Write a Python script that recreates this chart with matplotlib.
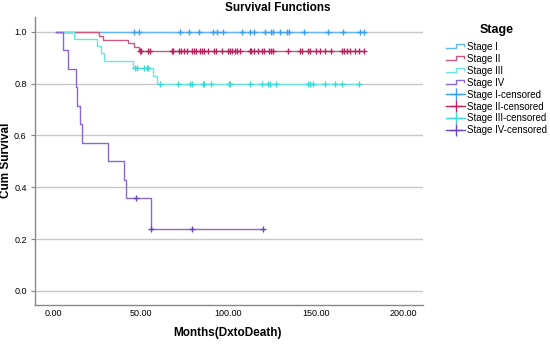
import numpy as np
import matplotlib
matplotlib.use('Agg')
import matplotlib.pyplot as plt
from matplotlib.lines import Line2D
from matplotlib.legend_handler import HandlerBase

plt.rcParams['font.family'] = ['Liberation Sans', 'DejaVu Sans']

# Kaplan-Meier curves: event times (months) and survival after each step
stage1_times = []
stage1_surv = []
stage1_cens = [46.1, 49.1, 72.4, 77.5, 83.2, 91.1, 93.2, 97.0, 107.7, 112.4, 114.7,
               121.0, 124.1, 125.3, 129.5, 133.3, 134.4, 143.3, 156.8, 165.5, 175.2, 177.5]

stage2_times = [26.3, 28.2, 42.5, 46.0, 49.0]
stage2_surv = [0.985, 0.970, 0.955, 0.940, 0.925]
stage2_cens = [49.3, 50.1, 53.8, 55.3, 67.8, 68.4, 71.8, 72.9, 74.4, 76.1, 79.3, 80.4,
               81.5, 83.5, 84.9, 86.1, 88.4, 91.8, 92.6, 96.1, 99.8, 101.0, 102.1, 103.5,
               105.0, 106.7, 112.1, 112.9, 114.7, 116.7, 119.3, 120.4, 123.0, 124.1, 125.5,
               133.8, 140.7, 141.9, 145.5, 146.7, 150.1, 152.4, 155.3, 158.4, 164.8, 165.7,
               167.5, 169.5, 172.4, 174.4, 177.5]

stage3_times = [11.8, 25.1, 27.3, 29.0, 45.5, 57.1, 58.9]
stage3_surv = [0.972, 0.944, 0.917, 0.889, 0.861, 0.829, 0.797]
stage3_cens = [46.7, 47.8, 52.0, 53.4, 54.3, 61.0, 71.4, 78.1, 79.0, 85.4, 86.1, 89.8,
               100.1, 101.1, 112.0, 119.1, 122.3, 123.7, 127.3, 145.1, 146.3, 148.4,
               154.8, 160.9, 164.8, 174.3]

stage4_times = [5.3, 8.2, 12.8, 13.7, 15.3, 16.2, 30.9, 40.6, 41.3, 55.8]
stage4_surv = [0.929, 0.857, 0.786, 0.714, 0.643, 0.571, 0.500, 0.429, 0.357, 0.238]
stage4_cens = [47.3, 55.8, 79.2, 119.4]

labels = ['Stage I', 'Stage II', 'Stage III', 'Stage IV']
line_colors = ['#62b6f2', '#c95a84', '#6fe3de', '#8a6ad0']
mark_colors = ['#3c9fee', '#b5245e', '#3fd8d2', '#6a46b8']

groups = [
    (stage1_times, stage1_surv, stage1_cens),
    (stage2_times, stage2_surv, stage2_cens),
    (stage3_times, stage3_surv, stage3_cens),
    (stage4_times, stage4_surv, stage4_cens),
]


def surv_at(times, surv, t):
    s = 1.0
    for ti, si in zip(times, surv):
        if ti <= t:
            s = si
    return s


class StepHandler(HandlerBase):
    def create_artists(self, legend, orig_handle, xdescent, ydescent,
                       width, height, fontsize, trans):
        x = np.array([0, 0.5, 0.5, 0.95, 0.95]) * width - xdescent
        y = np.array([0.25, 0.25, 0.85, 0.85, 0.6]) * height - ydescent
        ln = Line2D(x, y, color=orig_handle.get_color(), lw=1.0)
        ln.set_transform(trans)
        return [ln]


fig = plt.figure(figsize=(5.5, 3.44), dpi=100)
ax = fig.add_axes([0.0636, 0.1134, 0.7055, 0.8372])

for (times, surv, cens), lc, mc in zip(groups, line_colors, mark_colors):
    end = max([0] + times + cens)
    xs = [1.5] + times + [end]
    ys = [1.0] + surv + [surv[-1] if surv else 1.0]
    ax.step(xs, ys, where='post', color=lc, lw=1.0, zorder=3)
    cy = [surv_at(times, surv, c) for c in cens]
    ax.plot(cens, cy, linestyle='none', marker='+', markersize=5,
            markeredgewidth=1.0, color=mc, zorder=4)

ax.set_xlim(-10.5, 211)
ax.set_ylim(-0.054, 1.057)
ax.set_yticks([0.0, 0.2, 0.4, 0.6, 0.8, 1.0])
ax.set_yticklabels(['0.0', '0.2', '0.4', '0.6', '0.8', '1.0'])
ax.set_xticks([0, 50, 100, 150, 200])
ax.set_xticklabels(['0.00', '50.00', '100.00', '150.00', '200.00'])
ax.tick_params(axis='x', length=0, labelsize=6.5, pad=3)
ax.tick_params(axis='y', length=3, width=0.8, color='#888888', labelsize=6.5, pad=3)
ax.yaxis.grid(True, color='#c8c8c8', lw=1.0)
ax.set_axisbelow(True)
for side in ['top', 'right']:
    ax.spines[side].set_visible(False)
for side in ['left', 'bottom']:
    ax.spines[side].set_color('#888888')
    ax.spines[side].set_linewidth(1.0)

fig.text(0.505, 0.978, 'Survival Functions', ha='center', va='center',
         fontsize=8.5, fontweight='bold')
fig.text(6 / 550, 1 - 160 / 344, 'Cum Survival', rotation=90, ha='center', va='center',
         fontsize=8.5, fontweight='bold')
fig.text(228 / 550, 1 - 333 / 344, 'Months(DxtoDeath)', ha='center', va='center',
         fontsize=8.5, fontweight='bold')

handles = []
handler_map = {}
for lab, lc in zip(labels, line_colors):
    h = Line2D([], [], color=lc)
    handles.append(h)
    handler_map[h] = StepHandler()
for lab, mc in zip(labels, mark_colors):
    handles.append(Line2D([], [], color=mc, marker='+', markersize=9,
                          markeredgewidth=1.0, lw=1.0))
leg_labels = labels + [l + '-censored' for l in labels]

leg = fig.legend(handles, leg_labels, handler_map=handler_map,
                 loc='upper left', bbox_to_anchor=(0.795, 0.955),
                 frameon=False, fontsize=7, labelspacing=0.2,
                 handlelength=2.0, handletextpad=0.2,
                 title='Stage', title_fontproperties={'weight': 'bold', 'size': 9})
leg._legend_box.sep = 4

fig.savefig('out.png', dpi=100)
